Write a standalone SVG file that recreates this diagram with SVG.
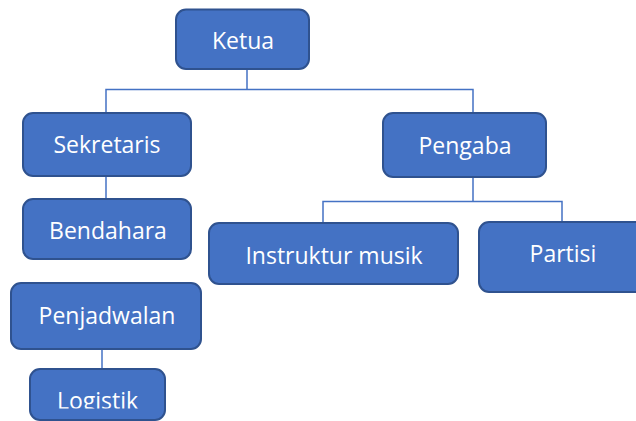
<svg xmlns="http://www.w3.org/2000/svg" width="636" height="421" viewBox="0 0 636 421">
<style>
.box{fill:#4472C4;stroke:#2F528F;stroke-width:2}
.lbl{font-family:"Open Sans","Noto Sans",sans-serif;font-size:23px;fill:#FFFFFF;text-anchor:middle}
.con{fill:none;stroke:#4472C4;stroke-width:1.5}
</style>
<defs>
<clipPath id="clipLog"><rect x="30" y="369" width="135" height="39.5"/></clipPath>
</defs>
<rect width="636" height="421" fill="#FFFFFF"/>
<g id="connectors">
<path class="con" d="M247 69 V89.5 M106 113 V89.5 H473 V113"/>
<path class="con" d="M106 176 V199"/>
<path class="con" d="M473 177 V201.5 M323 223 V201.5 H562 V222"/>
<path class="con" d="M102 349 V369"/>
</g>
<g id="ketua"><rect class="box" x="176" y="9.5" width="133" height="59.5" rx="10"/><text class="lbl" x="243" y="49">Ketua</text></g>
<g id="sekretaris"><rect class="box" x="23" y="113" width="168" height="63" rx="10"/><text class="lbl" x="107" y="153">Sekretaris</text></g>
<g id="pengaba"><rect class="box" x="383" y="113" width="163" height="64" rx="10"/><text class="lbl" x="465" y="153.5">Pengaba</text></g>
<g id="bendahara"><rect class="box" x="23" y="199" width="168" height="60" rx="10"/><text class="lbl" x="108" y="239">Bendahara</text></g>
<g id="instruktur"><rect class="box" x="209" y="223" width="249" height="61" rx="10"/><text class="lbl" x="334" y="263.5">Instruktur musik</text></g>
<g id="partisi"><rect class="box" x="479" y="222" width="168" height="70" rx="10"/><text class="lbl" x="563" y="262">Partisi</text></g>
<g id="penjadwalan"><rect class="box" x="11" y="283" width="190" height="66" rx="10"/><text class="lbl" x="107" y="324">Penjadwalan</text></g>
<g id="logistik"><rect class="box" x="30" y="369" width="135" height="51" rx="10"/><text class="lbl" x="97.5" y="408.5" clip-path="url(#clipLog)">Logistik</text></g>
</svg>
